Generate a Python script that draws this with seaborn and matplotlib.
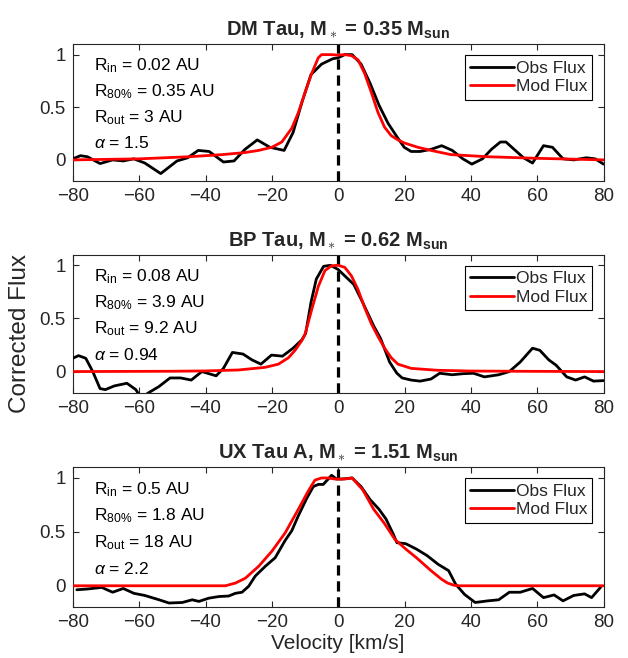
import numpy as np
import pandas as pd
import matplotlib
matplotlib.use("Agg")
import matplotlib.pyplot as plt
import seaborn as sns

# ---- data ----
titles = [r"DM Tau, M$_\ast$ = 0.35 M$_\mathbf{sun}$",
          r"BP Tau, M$_\ast$ = 0.62 M$_\mathbf{sun}$",
          r"UX Tau A, M$_\ast$ = 1.51 M$_\mathbf{sun}$"]

params = [["0.02", "0.35", "3", "1.5"],
          ["0.08", "3.9", "9.2", "0.94"],
          ["0.5", "1.8", "18", "2.2"]]

# DM Tau
dm_obs_v = [-80, -77.7, -75.6, -71.8, -68, -64.8, -61.6, -58.3, -53.5, -48.6, -45.4, -42.2,
            -38.9, -34.6, -31.4, -28.1, -24.4, -20.6, -16.3, -13.6, -10.9, -8.2, -5.0, -1.7,
            0, 2.0, 4.2, 6.9, 9.6, 12.3, 15.0, 17.7, 19.9, 22.0, 24.7, 28.0, 31.2, 34.4,
            37.6, 40.3, 43.5, 46.2, 48.9, 50.6, 52.7, 55.9, 58.6, 61.9, 64.6, 67.8, 71.0,
            74.8, 77.5, 80]
dm_obs_f = [0.01, 0.04, 0.03, -0.035, 0.0, -0.01, 0.01, -0.03, -0.13, -0.01, 0.02, 0.09,
            0.08, -0.02, -0.01, 0.10, 0.19, 0.12, 0.09, 0.26, 0.55, 0.81, 0.91, 0.96,
            0.97, 1.0, 1.0, 0.91, 0.73, 0.52, 0.35, 0.22, 0.12, 0.08, 0.08, 0.10, 0.135, 0.09,
            0.01, -0.04, 0.01, 0.10, 0.17, 0.17, 0.11, 0.02, -0.03, 0.135, 0.12, 0.01, 0.0,
            0.02, 0.01, -0.04]
dm_mod_v = [-80, -60, -45, -35, -28, -24, -20, -17, -14, -12, -10, -8, -6, -5, -2, 0, 2, 4,
            6, 8, 10, 12, 14, 16, 18, 20, 24, 28, 34, 45, 60, 80]
dm_mod_f = [0.0, 0.01, 0.03, 0.05, 0.07, 0.09, 0.12, 0.17, 0.30, 0.45, 0.64, 0.82, 0.97,
            1.0, 1.0, 0.995, 1.0, 0.99, 0.95, 0.82, 0.64, 0.45, 0.31, 0.23, 0.19, 0.16,
            0.12, 0.09, 0.05, 0.03, 0.015, 0.0]

# BP Tau
bp_obs_v = [-80, -78.3, -76.1, -74, -71.8, -70.2, -67.5, -63.7, -61.0, -59.4, -57.2, -54,
            -50.7, -47.5, -44.3, -41.1, -36.8, -34.6, -31.9, -28.7, -26, -23.3, -20.1,
            -16.8, -13.6, -10.9, -9.8, -8.2, -6.6, -4.4, -2.3, 0, 2.0, 4.7, 7.4, 10.7,
            12.8, 15.5, 17.7, 19.3, 22.0, 24.7, 28.0, 30.6, 34.4, 37.6, 40.8, 44.1, 48.4,
            51.6, 54.9, 58.6, 60.8, 63.5, 65.7, 68.9, 71.6, 74.3, 77.0, 80]
bp_obs_f = [0.125, 0.15, 0.125, 0.0, -0.16, -0.17, -0.135, -0.11, -0.17, -0.25, -0.2, -0.14,
            -0.06, -0.06, -0.08, 0.0, -0.04, 0.03, 0.18, 0.165, 0.11, 0.07, 0.155,
            0.145, 0.22, 0.30, 0.36, 0.65, 0.87, 0.99, 1.0, 0.96, 0.90, 0.82, 0.65, 0.43,
            0.31, 0.09, -0.016, -0.06, -0.08, -0.09, -0.07, -0.016, -0.03, -0.02, -0.016,
            -0.05, -0.03, 0.0, 0.09, 0.22, 0.20, 0.11, 0.06, -0.05, -0.08, -0.05, -0.09,
            -0.085]
bp_mod_v = [-80, -50, -40, -30, -22, -18, -15, -13, -11, -10, -8, -6, -4, -2, 0, 2, 4, 6,
            8, 10, 12, 14, 16, 18, 22, 30, 40, 60, 80]
bp_mod_f = [0.0, 0.003, 0.006, 0.015, 0.04, 0.07, 0.13, 0.2, 0.29, 0.35, 0.58, 0.8, 0.95,
            0.995, 1.0, 0.98, 0.9, 0.77, 0.6, 0.45, 0.33, 0.22, 0.13, 0.07, 0.03, 0.012,
            0.005, 0.002, 0.0]

# UX Tau A
ux_obs_v = [-78.8, -75.6, -71.3, -68, -64.8, -61.6, -58.3, -54, -51, -47, -44, -42, -39,
            -36, -33, -31, -29, -27, -25, -22, -19, -16, -14, -12, -9.5, -7.5, -6, -4.5,
            -3, -2, -0.5, 1.0, 4.2, 6.9, 9.6, 12.3, 14.4, 16.6, 17.7, 20.4,
            23.6, 26.8, 30.1, 33.3, 35.4, 38.1, 41.3, 45.1, 48.4, 51.6, 54.9, 58.6, 61.9,
            65.1, 67.8, 71.0, 74.3, 76.4, 79.1]
ux_obs_f = [-0.037, -0.03, -0.015, -0.06, -0.025, -0.07, -0.09, -0.13, -0.16, -0.155,
            -0.13, -0.145, -0.115, -0.10, -0.095, -0.07, -0.06, -0.005, 0.09, 0.18, 0.26,
            0.42, 0.51, 0.65, 0.81, 0.92, 0.94, 0.94, 0.99, 1.025, 0.99, 0.99, 1.0, 0.92,
            0.80, 0.71, 0.62, 0.48, 0.40, 0.39, 0.34, 0.28, 0.20, 0.14, 0.015, -0.08,
            -0.155, -0.14, -0.13, -0.06, -0.06, -0.025, -0.11, -0.085, -0.14, -0.09,
            -0.075, -0.11, -0.015]
ux_mod_v = [-80, -34, -31, -28, -24, -20, -16, -12, -9, -7, -5, -3, -1, 2, 4.2,
            7.4, 10.7, 13.9, 17.1, 20.4, 23.6, 28, 31.2, 33, 35, 36.5, 80]
ux_mod_f = [0.0, 0.0, 0.025, 0.07, 0.18, 0.32, 0.49, 0.71, 0.88, 0.98, 1.0, 1.0, 0.99,
            0.99, 1.0, 0.89, 0.71, 0.58, 0.43, 0.34, 0.26, 0.14, 0.06, 0.025, 0.004, 0.0,
            0.0]

obs = [(dm_obs_v, dm_obs_f), (bp_obs_v, bp_obs_f), (ux_obs_v, ux_obs_f)]
mod = [(dm_mod_v, dm_mod_f), (bp_mod_v, bp_mod_f), (ux_mod_v, ux_mod_f)]

# ---- style ----
sns.set_style("ticks")
plt.rcParams["font.family"] = ["Liberation Sans", "DejaVu Sans"]
plt.rcParams["mathtext.fontset"] = "custom"
plt.rcParams["mathtext.rm"] = "Liberation Sans"
plt.rcParams["mathtext.it"] = "Liberation Sans:italic"
plt.rcParams["mathtext.bf"] = "Liberation Sans:bold"

dark = "#262626"
fig = plt.figure(figsize=(6.28, 6.58), dpi=100)
boxes = [(0.116, 0.725, 0.845, 0.208),
         (0.116, 0.403, 0.845, 0.210),
         (0.116, 0.077, 0.845, 0.213)]

for i in range(3):
    ax = fig.add_axes(boxes[i])
    df_o = pd.DataFrame({"v": obs[i][0], "f": obs[i][1]})
    df_m = pd.DataFrame({"v": mod[i][0], "f": mod[i][1]})
    ax.axvline(0, color="black", lw=2.3, ls=(0, (3.2, 1.8)), zorder=1)
    sns.lineplot(data=df_o, x="v", y="f", ax=ax, color="black", lw=2,
                 label="Obs Flux", zorder=3)
    sns.lineplot(data=df_m, x="v", y="f", ax=ax, color="#ff0000", lw=2,
                 label="Mod Flux", zorder=4)
    ax.set_xlim(-80, 80)
    ax.set_ylim(-0.2, 1.1)
    ax.set_xticks(range(-80, 81, 20))
    ax.set_yticks([0, 0.5, 1])
    ax.set_yticklabels(["0", "0.5", "1"])
    ax.tick_params(direction="in", top=True, right=True, length=4, width=0.8,
                   labelsize=13.5, colors=dark, pad=5)
    for s in ax.spines.values():
        s.set_linewidth(0.8)
        s.set_color(dark)
    ax.set_xlabel("")
    ax.set_ylabel("")
    ax.set_title(titles[i], fontsize=14.5, fontweight="bold", pad=6)
    p = params[i]
    labels = [r"R$_{\rm in}$ = " + p[0] + " AU",
              r"R$_{\rm 80\%}$ = " + p[1] + " AU",
              r"R$_{\rm out}$ = " + p[2] + " AU",
              r"$\alpha$ = " + p[3]]
    for j, t in enumerate(labels):
        ax.text(0.04, 0.81 - j * 0.19, t, transform=ax.transAxes,
                fontsize=12.5, va="baseline", ha="left", color="black")
    leg = ax.legend(loc="upper right", fontsize=12.5, frameon=True, fancybox=False,
                    edgecolor="black", framealpha=1, borderaxespad=0.65,
                    handlelength=2.5, handletextpad=0.1, borderpad=0.3,
                    labelspacing=0.2)
    leg.get_frame().set_linewidth(0.8)
    if i == 1:
        ax.set_ylabel("Corrected Flux", fontsize=17.5, color=dark)
        ax.yaxis.set_label_coords(-0.078, 0.43)
    if i == 2:
        ax.set_xlabel("Velocity [km/s]", fontsize=15, color=dark, labelpad=2)

fig.savefig("out.png", dpi=100)
